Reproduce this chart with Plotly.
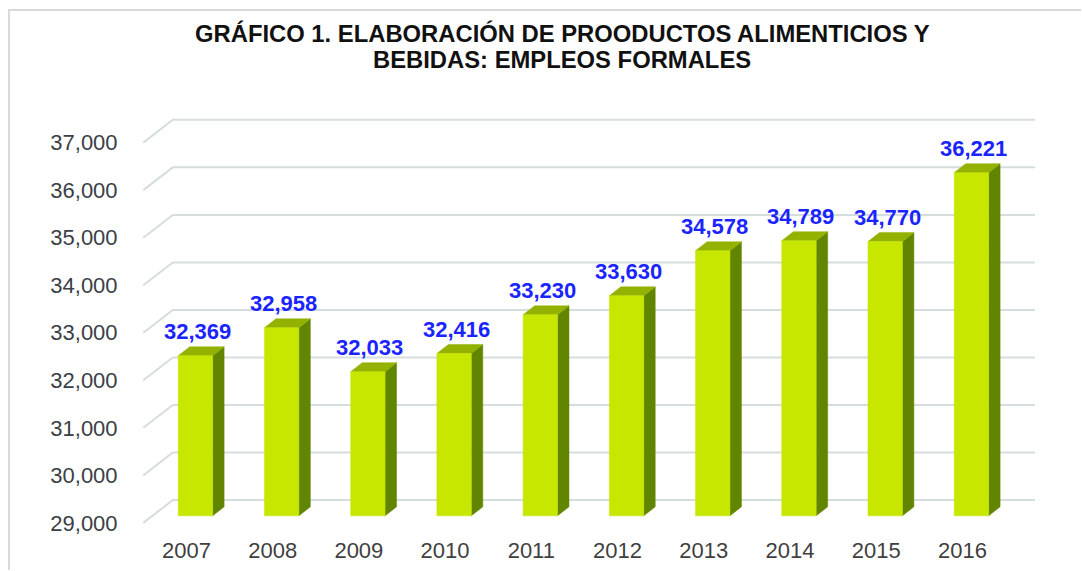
import plotly.graph_objects as go

# ---------------- data ----------------
years = ["2007", "2008", "2009", "2010", "2011", "2012", "2013", "2014", "2015", "2016"]
empleos = [32369, 32958, 32033, 32416, 33230, 33630, 34578, 34789, 34770, 36221]
y_ticks = [29000, 30000, 31000, 32000, 33000, 34000, 35000, 36000, 37000]
title_lines = ["GRÁFICO 1. ELABORACIÓN DE PROODUCTOS ALIMENTICIOS Y",
               "BEBIDAS: EMPLEOS FORMALES"]

# ---------------- layout geometry ----------------
W, H = 1082, 571
ML, MR, MT, MB = 139, 42, 116, 41
XR = [-0.55, 9.9]
YR = [28850, 37560]
px_x = (W - ML - MR) / (XR[1] - XR[0])   # pixels per category unit
px_y = (H - MT - MB) / (YR[1] - YR[0])   # pixels per value unit


def dx(p):
    return p / px_x


def dy(p):
    return p / px_y


wall_dx, wall_dy = dx(29.5), dy(22.8)    # depth of the 3D box
bar_off_x, bar_off_y = dx(9), dy(7)      # bar front plane offset from front of box
bar_hw = dx(17.2)                        # half width of bar front face
bar_dx, bar_dy = dx(11.5), dy(9)         # bar depth
base = y_ticks[0]
n = len(years)

FONT = "Arial, Liberation Sans, sans-serif"
C_FRONT = "#C7E600"
C_TOP = "#93B200"
C_SIDE = "#628500"
C_GRID = "#D6DDDD"

fig = go.Figure()

# gridlines (left wall diagonal + back wall)
gx, gy = [], []
for v in y_ticks:
    gx += [-0.5, -0.5 + wall_dx, n - 0.5 + wall_dx, None]
    gy += [v, v + wall_dy, v + wall_dy, None]
fig.add_trace(go.Scatter(x=gx, y=gy, mode="lines",
                         line=dict(color=C_GRID, width=2),
                         hoverinfo="skip", showlegend=False))

# bars
fx, fy, sx, sy, tx, ty = [], [], [], [], [], []
for i, v in enumerate(empleos):
    x0 = i + bar_off_x - bar_hw
    x1 = i + bar_off_x + bar_hw
    y0 = base + bar_off_y
    y1 = v + bar_off_y
    fx += [x0, x1, x1, x0, x0, None]
    fy += [y0, y0, y1, y1, y0, None]
    sx += [x1, x1 + bar_dx, x1 + bar_dx, x1, x1, None]
    sy += [y0, y0 + bar_dy, y1 + bar_dy, y1, y0, None]
    tx += [x0, x1, x1 + bar_dx, x0 + bar_dx, x0, None]
    ty += [y1, y1, y1 + bar_dy, y1 + bar_dy, y1, None]

for xs, ys, c in [(sx, sy, C_SIDE), (tx, ty, C_TOP), (fx, fy, C_FRONT)]:
    fig.add_trace(go.Scatter(x=xs, y=ys, mode="lines", fill="toself",
                             fillcolor=c, line=dict(color=c, width=0.5),
                             hoverinfo="skip", showlegend=False))

# data labels
annotations = []
for i, v in enumerate(empleos):
    annotations.append(dict(
        x=i + bar_off_x + dx(2), y=v + bar_off_y, xref="x", yref="y",
        text=f"<b>{v:,}</b>", showarrow=False, yanchor="middle",
        yshift=24, font=dict(family=FONT, size=22, color="#1A24FF")))

# title lines
plot_bottom = H - MB
plot_h = H - MT - MB
plot_w = W - ML - MR
for line, ypix in zip(title_lines, [33, 59]):
    annotations.append(dict(
        x=(562 - ML) / plot_w, y=(plot_bottom - ypix) / plot_h,
        xref="paper", yref="paper", text=f"<b>{line}</b>", showarrow=False,
        xanchor="center", yanchor="middle",
        font=dict(family=FONT, size=23.8, color="#111111")))

# chart frame (left and top border), kept inside the figure
fx_l = (9 - ML) / plot_w
fy_t = (plot_bottom - 10) / plot_h
fy_b = -(MB - 1) / plot_h
fx_r = (W - 1 - ML) / plot_w
shapes = [dict(type="path", xref="paper", yref="paper",
               path=f"M {fx_l},{fy_b} L {fx_l},{fy_t} L {fx_r},{fy_t}",
               line=dict(color="#D9D9D9", width=2))]

fig.update_layout(
    width=W, height=H, autosize=False,
    margin=dict(l=ML, r=MR, t=MT, b=MB, pad=0, autoexpand=False),
    paper_bgcolor="white", plot_bgcolor="white",
    showlegend=False,
    annotations=annotations,
    shapes=shapes,
    xaxis=dict(range=XR, tickvals=list(range(n)), ticktext=years,
               showgrid=False, zeroline=False, showline=False,
               automargin=False,
               ticks="outside", ticklen=1, tickcolor="rgba(0,0,0,0)",
               tickfont=dict(family=FONT, size=22, color="#3F3F3F"),
               fixedrange=True),
    yaxis=dict(range=YR, tickvals=y_ticks, tickformat=",d",
               showgrid=False, zeroline=False, showline=False,
               automargin=False,
               ticks="outside", ticklen=16, tickcolor="rgba(0,0,0,0)",
               tickfont=dict(family=FONT, size=22, color="#3A4046"),
               fixedrange=True),
)

fig.write_html(
    "out.html",
    config={"displayModeBar": False},
    post_script="document.body.style.margin='0';"
                "document.body.style.overflow='hidden';"
                "document.documentElement.style.overflow='hidden';",
)
